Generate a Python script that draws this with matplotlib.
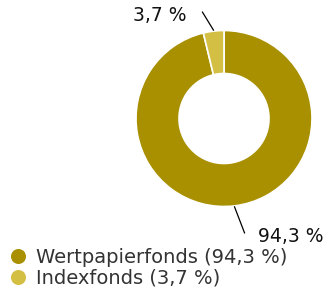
import numpy as np
import matplotlib
matplotlib.use("Agg")
import matplotlib.pyplot as plt

# datos del grafico
labels = ["Wertpapierfonds", "Indexfonds"]
values = [94.3, 3.7]
value_labels = ["94,3 %", "3,7 %"]
colors = ["#a89000", "#d4bf45"]

plt.rcParams['font.family'] = ['DejaVu Sans']

W, H = 323, 293
fig = plt.figure(figsize=(W / 100, H / 100), dpi=100)
ax = fig.add_axes([0, 0, 1, 1])

cx, cy = 224, H - 118.5
R = 88
wedges, _ = ax.pie(values, colors=colors, startangle=90, counterclock=False,
                   center=(cx, cy), radius=R,
                   wedgeprops=dict(width=R - 45, edgecolor='white', linewidth=1.2))
ax.set_xlim(0, W)
ax.set_ylim(0, H)
ax.set_aspect('equal')
ax.axis('off')

# lineas de referencia: desplazamiento extra del extremo exterior (dx, dy en px)
ends = [(10, -26), (-11, 18)]
for w, txt, (dx, dy) in zip(wedges, value_labels, ends):
    ang = np.deg2rad((w.theta1 + w.theta2) / 2)
    x0, y0 = cx + (R + 1) * np.cos(ang), cy + (R + 1) * np.sin(ang)
    x1, y1 = x0 + dx, y0 + dy
    ax.plot([x0, x1], [y0, y1], color='black', lw=0.9)
    if dx > 0:
        ax.text(x1 + 13, y1 - 3.5, txt, ha='left', va='center', fontsize=13.5, color='#111111')
    else:
        ax.text(x1 - 16, y1 - 3.5, txt, ha='right', va='center', fontsize=13.5, color='#111111')

# leyenda
for i, (lab, vl, c) in enumerate(zip(labels, value_labels, colors)):
    y = H - 256 - 20.5 * i
    ax.scatter([17.5], [y], s=117, color=c, zorder=3, linewidths=0)
    ax.text(36, y - 7.3, f"{lab} ({vl})", ha='left', va='baseline', fontsize=14, color='#333333')

fig.savefig("out.png", dpi=100)
